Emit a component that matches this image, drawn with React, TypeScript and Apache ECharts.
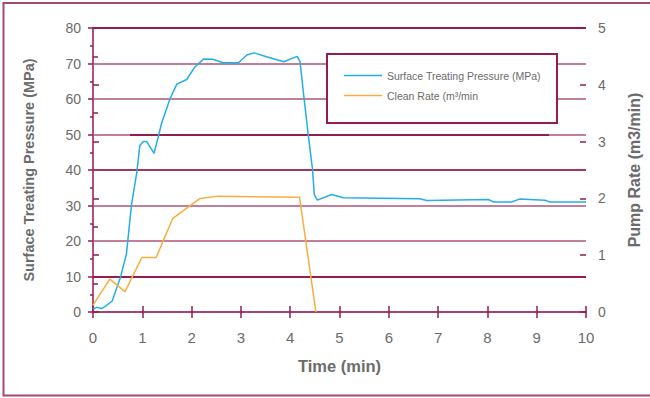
import React, { useEffect, useRef } from "react";
import * as echarts from "echarts";

const pressureTime = [0, 0.075, 0.18, 0.24, 0.39, 0.56, 0.68, 0.78, 0.89, 0.95, 1.02, 1.09, 1.24, 1.39, 1.56, 1.7, 1.9, 2.07, 2.25, 2.43, 2.64, 2.95, 3.12, 3.27, 3.52, 3.87, 4.14, 4.2, 4.27, 4.37, 4.45, 4.49, 4.55, 4.84, 5.08, 6.63, 6.77, 8.02, 8.12, 8.49, 8.65, 9.17, 9.26, 10];
const pressureValues = [0.75, 1.3, 1.0, 1.5, 3.1, 9.9, 16.5, 30.1, 39.5, 46.9, 48, 48, 44.7, 53.1, 60, 64.2, 65.5, 69.1, 71.3, 71.2, 70.2, 70.2, 72.4, 73.0, 71.9, 70.5, 72.0, 70.5, 61.6, 49.4, 40.5, 33.0, 31.5, 33.1, 32.2, 31.9, 31.4, 31.7, 31.0, 31.0, 31.8, 31.5, 31.0, 31.0];
const rateTime = [0, 0.34, 0.65, 0.99, 1.28, 1.62, 2.17, 2.54, 4.19, 4.52];
const rateValues = [0.12, 0.58, 0.36, 0.96, 0.96, 1.65, 2.0, 2.04, 2.02, 0.0];
const seriesNames = ["Surface Treating Pressure (MPa)", "Clean Rate (m\u00b3/min"];

const FONT = "'Liberation Sans Narrow', 'Liberation Sans', Arial, sans-serif";
const GRAY = "#6b6b6b";
const DARK = "#951c52";
const MEDIUM = "#a3365f";
const LIGHT = "#c07f9b";

export default function App() {
  const ref = useRef<HTMLDivElement>(null);
  useEffect(() => {
    document.body.style.margin = "0";
    const chart = echarts.init(ref.current!, null, { renderer: "svg" });
    const pressure = pressureTime.map((t, i) => [t, pressureValues[i]]);
    const rate = rateTime.map((t, i) => [t, rateValues[i]]);
    chart.setOption({
      animation: false,
      backgroundColor: "#ffffff",
      textStyle: { fontFamily: FONT },
      grid: { left: 93, right: 64, top: 28, bottom: 86 },
      graphic: [
        {
          type: "rect",
          z: 0,
          shape: { x: 3.5, y: 3, width: 660, height: 392.5 },
          style: { fill: "none", stroke: "#a2496f", lineWidth: 2 },
        },
        {
          type: "rect",
          z: 10,
          shape: { x: 327, y: 54, width: 230, height: 69 },
          style: { fill: "#ffffff", stroke: DARK, lineWidth: 2 },
        },
      ],
      legend: {
        orient: "vertical",
        left: 344,
        top: 70,
        z: 20,
        padding: 0,
        itemGap: 9,
        itemWidth: 38,
        itemHeight: 1.5,
        itemTextGap: 8,
        icon: "rect",
        textStyle: { color: GRAY, fontSize: 10.5, fontFamily: FONT },
        data: seriesNames,
      },
      xAxis: [
        {
          type: "value",
          min: 0,
          max: 10,
          interval: 1,
          name: "Time (min)",
          nameLocation: "middle",
          nameGap: 45,
          nameTextStyle: { color: GRAY, fontSize: 16.5, fontWeight: "bold", fontFamily: FONT },
          axisLine: { lineStyle: { color: "#a8426e", width: 2 } },
          axisTick: { show: true, length: 6, lineStyle: { color: DARK, width: 1.5 } },
          axisLabel: { color: GRAY, fontSize: 15, margin: 18, fontFamily: FONT },
          splitLine: { show: false },
        },
        {
          type: "value",
          min: 0,
          max: 10,
          interval: 1,
          position: "bottom",
          axisLine: { show: false },
          axisTick: { show: true, inside: true, length: 6, lineStyle: { color: DARK, width: 1.5 } },
          axisLabel: { show: false },
          splitLine: { show: false },
        },
      ],
      yAxis: [
        {
          type: "value",
          min: 0,
          max: 80,
          interval: 10,
          position: "left",
          name: "Surface Treating Pressure (MPa)",
          nameLocation: "middle",
          nameRotate: 90,
          nameGap: 57,
          nameTextStyle: { color: GRAY, fontSize: 14.5, fontWeight: "bold", fontFamily: FONT },
          axisLine: { show: true, lineStyle: { color: "#8f1a4b", width: 2 } },
          axisTick: { show: true, length: 5, lineStyle: { color: DARK, width: 1.5 } },
          minorTick: { show: true, splitNumber: 2, length: 3, lineStyle: { color: DARK, width: 1.5 } },
          axisLabel: { color: GRAY, fontSize: 14, margin: 12, fontFamily: FONT },
          splitLine: { show: true, lineStyle: { width: 2, color: LIGHT } },
        },
        {
          type: "value",
          min: 0,
          max: 5,
          interval: 1,
          position: "right",
          name: "Pump Rate (m3/min)",
          nameLocation: "middle",
          nameRotate: 90,
          nameGap: 40,
          nameTextStyle: { color: GRAY, fontSize: 16, fontWeight: "bold", fontFamily: FONT },
          axisLine: { show: true, lineStyle: { color: "#b05080", width: 2 } },
          axisTick: { show: true, length: 6, lineStyle: { color: DARK, width: 1.5 } },
          minorTick: { show: true, splitNumber: 2, length: 5, lineStyle: { color: DARK, width: 1.5 } },
          axisLabel: { color: GRAY, fontSize: 14, margin: 12, fontFamily: FONT },
          splitLine: { show: false },
        },
        {
          type: "value",
          min: 0,
          max: 5,
          interval: 1,
          position: "right",
          axisLine: { show: false },
          axisTick: { show: true, inside: true, length: 6, lineStyle: { color: DARK, width: 1.5 } },
          axisLabel: { show: false },
          splitLine: { show: false },
        },
      ],
      series: [
        {
          name: seriesNames[0],
          type: "line",
          xAxisIndex: 0,
          yAxisIndex: 0,
          z: 5,
          data: pressure,
          showSymbol: false,
          symbol: "none",
          lineStyle: { color: "#22aee6", width: 1.5 },
          itemStyle: { color: "#22aee6" },
        },
        {
          name: seriesNames[1],
          type: "line",
          xAxisIndex: 0,
          yAxisIndex: 1,
          z: 5,
          data: rate,
          showSymbol: false,
          symbol: "none",
          lineStyle: { color: "#fbac3c", width: 1.5 },
          itemStyle: { color: "#fbac3c" },
        },
        {
          name: "gridAccent",
          type: "line",
          xAxisIndex: 0,
          yAxisIndex: 0,
          z: 1,
          data: [],
          markLine: {
            silent: true,
            symbol: "none",
            label: { show: false },
            lineStyle: { color: DARK, width: 2, type: "solid" },
            data: [
              { yAxis: 10, lineStyle: { color: DARK, width: 2, type: "solid" } },
              { yAxis: 40, lineStyle: { color: MEDIUM, width: 2, type: "solid" } },
              { yAxis: 80, lineStyle: { color: DARK, width: 2, type: "solid" } },
              [{ coord: [0.75, 50] }, { coord: [9.25, 50] }],
            ],
          },
        },
      ],
    });
    return () => chart.dispose();
  }, []);
  return (
    <div
      ref={ref}
      style={{ position: "absolute", left: 0, top: 0, width: 650, height: 398 }}
    />
  );
}
